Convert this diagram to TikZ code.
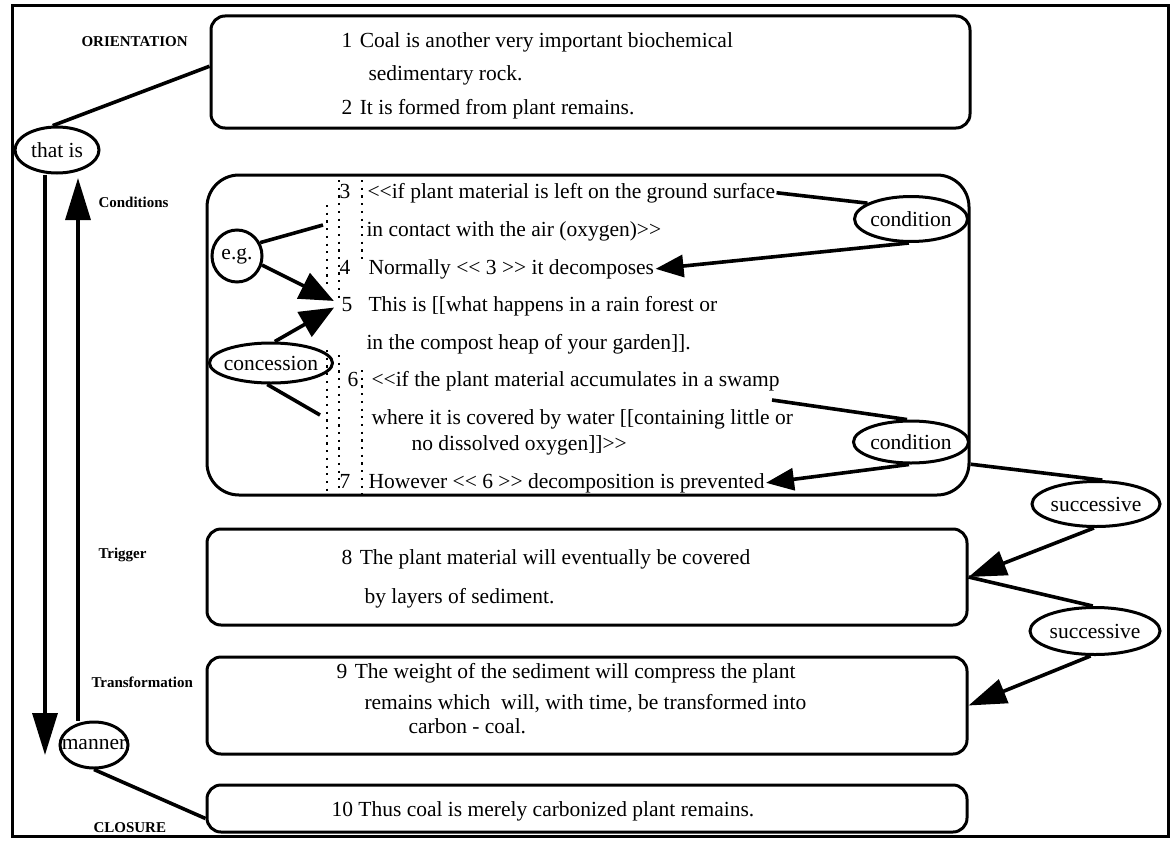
\documentclass[tikz,border=0pt]{standalone}
\usepackage{fontspec}
\setmainfont{Liberation Serif}
\usetikzlibrary{arrows.meta,shapes.geometric,calc}
% double angle brackets without the TeX guillemet ligature
\newcommand\LL{<\kern0pt<}
\newcommand\GG{>\kern0pt>}
\begin{document}
\begin{tikzpicture}[x=1pt,y=-1pt,
  line width=3pt,
  txt/.style={anchor=base west, inner sep=0pt, font=\fontsize{21.5}{25}\selectfont},
  num/.style={anchor=base, inner sep=0pt, font=\fontsize{21.5}{25}\selectfont},
  stage/.style={anchor=west, inner sep=0pt, font=\fontsize{15}{18}\selectfont\bfseries},
  tbox/.style={draw, rectangle, rounded corners=14pt, inner sep=0pt, line width=3pt},
  oval/.style={draw, ellipse, inner sep=0pt, line width=3pt},
  olabel/.style={inner sep=0pt, font=\fontsize{21.5}{25}\selectfont},
  link/.style={line width=3.6pt},
  bigtip/.style={-{Triangle[length=34pt,width=28pt]}, line width=3.6pt},
  midtip/.style={-{Triangle[length=28pt,width=22pt]}, line width=3.6pt},
  sidetip/.style={-{Triangle[length=38pt,width=25pt]}, line width=3.6pt},
  longtip/.style={-{Triangle[length=42pt,width=25pt]}, line width=3.4pt},
  dots/.style={line width=2.2pt, dash pattern=on 2.2pt off 5.5pt},
]
\useasboundingbox (0,0) rectangle (1174,840);
% outer frame
\draw[line width=3pt] (12,6) rectangle (1168,836);

% text boxes
\node[tbox, minimum width=759pt, minimum height=112pt] (b1) at (590.5,72) {};
\node[tbox, rounded corners=32pt, minimum width=762pt, minimum height=320pt] (cbox) at (588,335) {};
\node[tbox, minimum width=760pt, minimum height=96pt] (b8) at (587,577) {};
\node[tbox, minimum width=760pt, minimum height=97pt] (b9) at (587,705.5) {};
\node[tbox, minimum width=760pt, minimum height=47pt] (b10) at (587,808.5) {};

% stage labels
\node[stage] (sOri) at (80,42) {ORIENTATION};
\node[stage] (sCon) at (97,202) {Conditions};
\node[stage] (sTri) at (97,555) {Trigger};
\node[stage] (sTra) at (90,682) {Transformation};
\node[stage] (sClo) at (92,828) {CLOSURE};

% clauses 1-2
\node[txt] (t1a) at (340,48) {1\hspace{.35em}Coal is another very important biochemical};
\node[txt] (t1b) at (367,81) {sedimentary rock.};
\node[txt] (t1c) at (340,114) {2\hspace{.35em}It is formed from plant remains.};

% clauses 3-7
\node[num] (n3) at (345,198) {3};
\node[txt] (t3a) at (366,198) {\LL{}if plant material is left on the ground surface};
\node[txt] (t3b) at (365,236) {in contact with the air (oxygen)\GG};
\node[num] (n4) at (345,274) {4};
\node[txt] (t4) at (367,274) {Normally \LL{} 3 \GG{} it decomposes};
\node[num] (n5) at (347,311) {5};
\node[txt] (t5a) at (367,311) {This is [[what happens in a rain forest or};
\node[txt] (t5b) at (365,349) {in the compost heap of your garden]].};
\node[num] (n6) at (353,386) {6};
\node[txt] (t6a) at (370,386) {\LL{}if the plant material accumulates in a swamp};
\node[txt] (t6b) at (370,424) {where it is covered by water [[containing little or};
\node[txt] (t6c) at (410,450) {no dissolved oxygen]]\GG};
\node[num] (n7) at (345,488) {7};
\node[txt] (t7) at (367,488) {However \LL{} 6 \GG{} decomposition is prevented};

% dotted clause columns
\draw[dots] (327,205) -- (327,285);
\draw[dots] (327,350) -- (327,495);
\draw[dots] (339,180) -- (339,300);
\draw[dots] (339,355) -- (339,495);
\draw[dots] (362,180) -- (362,262);
\draw[dots] (362,370) -- (362,495);

% clauses 8-10
\node[txt] (t8a) at (340,564) {8\hspace{.35em}The plant material will eventually be covered};
\node[txt] (t8b) at (363,603) {by layers of sediment.};
\node[txt] (t9a) at (335,678) {9\hspace{.35em}The weight of the sediment will compress the plant};
\node[txt] (t9b) at (363,709) {remains which\ \ will, with time, be transformed into};
\node[txt] (t9c) at (407,733) {carbon - coal.};
\node[txt] (t10) at (330,816) {10 Thus coal is merely carbonized plant remains.};

% relation ovals
\node[oval, minimum width=84pt, minimum height=46pt] (thatis) at (57,150) {};
\node[olabel] (thatisL) at (thatis) {that is};
\node[oval, minimum width=68pt, minimum height=46pt] (manner) at (94,745) {};
\node[olabel] (mannerL) at (manner) {manner};
\node[oval, minimum width=50pt, minimum height=52pt] (eg) at (237,256) {};
\node[olabel] (egL) at (eg) {e.g.};
\node[oval, minimum width=123pt, minimum height=40pt] (conc) at (271,363) {};
\node[olabel] (concL) at (conc) {concession};
\node[oval, minimum width=113pt, minimum height=45pt] (cond1) at (911,219) {};
\node[olabel] (cond1L) at (cond1) {condition};
\node[oval, minimum width=115pt, minimum height=42pt] (cond2) at (911,442) {};
\node[olabel] (cond2L) at (cond2) {condition};
\node[oval, minimum width=128pt, minimum height=45pt] (succ1) at (1096,504) {};
\node[olabel] (succ1L) at (succ1) {successive};
\node[oval, minimum width=130pt, minimum height=47pt] (succ2) at (1095,631) {};
\node[olabel] (succ2L) at (succ2) {successive};

% free ends
\coordinate (downtip) at (45,755);
\coordinate (uptip) at (78,178);
\coordinate (egend) at (323,225);
\coordinate (concend) at (320,415);
\coordinate (c2start) at (772,400);

% connectors
\draw[link] ($(b1.north west)!0.45!(b1.south west)$) -- (thatis.100);
\draw[longtip] (thatis.south -| downtip) -- (downtip);
\draw[longtip] (manner.north -| uptip) -- (uptip);
\draw[link] (manner.south) -- ($(b10.south west)!0.3!(b10.north west)$);
\draw[link] (eg.30) -- (egend);
\draw[bigtip, shorten >=7pt] (eg.-20) -- (n5.west);
\draw[bigtip, shorten >=7pt] (conc.80) -- (n5.west);
\draw[link] (conc.-100) -- (concend);
\draw[link] (t3a.east) -- (cond1.160);
\draw[midtip] (cond1.-95) -- (t4.east);
\draw[link] (c2start) -- (cond2.100);
\draw[midtip] (cond2.-95) -- (t7.east);
\draw[link] ($(cbox.south east)!0.1!(cbox.north east)$) -- (succ1.75);
\draw[sidetip] (succ1.-95) -- (b8.east);
\draw[link] (b8.east) -- (succ2.95);
\draw[sidetip] (succ2.-100) -- (b9.east);
\end{tikzpicture}
\end{document}
